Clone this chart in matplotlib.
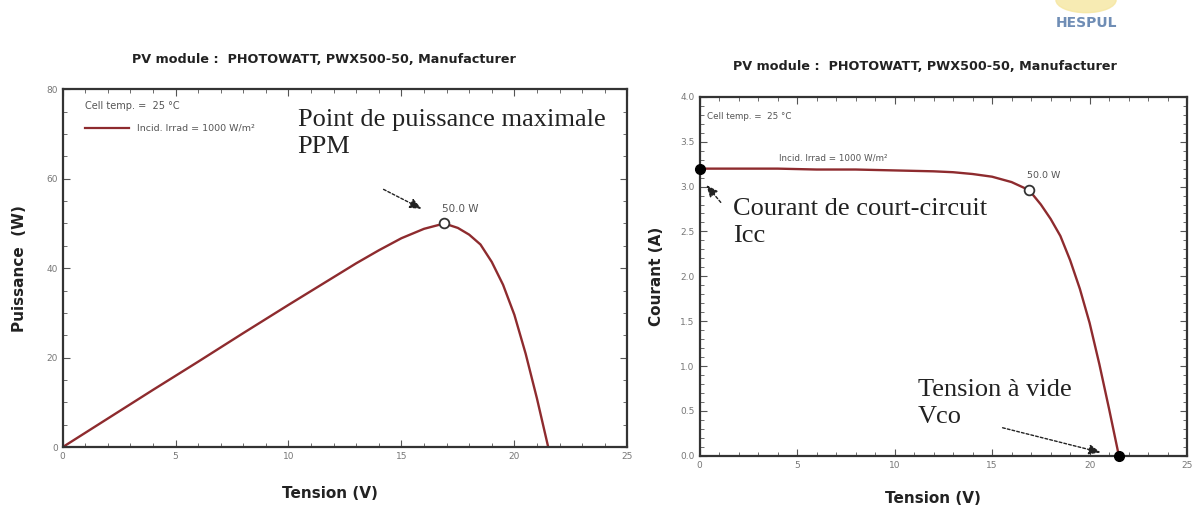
import matplotlib.pyplot as plt
from matplotlib.patches import Ellipse
from matplotlib.ticker import MultipleLocator

# data (PWX500-50 module, 25 C, 1000 W/m2)
tension = [0, 2, 4, 6, 8, 10, 12, 13, 14, 15, 16, 16.9, 17.5, 18, 18.5, 19, 19.5, 20, 20.5, 21, 21.5]
courant = [3.20, 3.20, 3.20, 3.19, 3.19, 3.18, 3.17, 3.16, 3.14, 3.11, 3.05, 2.96, 2.80, 2.64, 2.45, 2.18, 1.86, 1.48, 1.02, 0.52, 0.0]
puissance = [0, 6.4, 12.8, 19.1, 25.5, 31.8, 38.0, 41.1, 44.0, 46.7, 48.8, 50.0, 49.0, 47.5, 45.3, 41.4, 36.3, 29.6, 20.9, 10.9, 0.0]
v_mpp, p_mpp, i_mpp = 16.9, 50.0, 2.96
i_cc, v_co = 3.20, 21.5

title = "PV module :  PHOTOWATT, PWX500-50, Manufacturer"
red = "#8e2b2e"
grey = "#777777"
serif = "Liberation Serif"
arrow = dict(arrowstyle="-|>,head_length=0.7,head_width=0.3", ls=(0, (2, 1.5)),
             color="#222222", lw=1.0)

fig = plt.figure(figsize=(12.04, 5.07), dpi=100)
ax1 = fig.add_axes([0.052, 0.118, 0.469, 0.706])
ax2 = fig.add_axes([0.581, 0.101, 0.405, 0.708])


def style(ax):
    for s in ax.spines.values():
        s.set_linewidth(1.6)
        s.set_color("#333333")
    ax.tick_params(which="both", direction="in", top=True, right=True,
                   labelsize=6.5, labelcolor=grey, color="#555555")
    ax.tick_params(which="major", length=5)
    ax.tick_params(which="minor", length=3)
    ax.set_xlim(0, 25)
    ax.xaxis.set_major_locator(MultipleLocator(5))
    ax.xaxis.set_minor_locator(MultipleLocator(1))
    ax.set_xlabel("Tension (V)", fontsize=11, fontweight="bold", color="#222222")


# --- left: P-V ---
style(ax1)
ax1.xaxis.set_label_coords(0.474, -0.109)
ax1.set_ylim(0, 80)
ax1.yaxis.set_major_locator(MultipleLocator(20))
ax1.yaxis.set_minor_locator(MultipleLocator(5))
ax1.set_ylabel("Puissance  (W)", fontsize=11, fontweight="bold", color="#222222", labelpad=14)
ax1.plot(tension, puissance, color=red, lw=1.7)
ax1.plot(v_mpp, p_mpp, "o", ms=7, mfc="white", mec="#333333", mew=1.3)
ax1.text(16.8, 53.2, "50.0 W", fontsize=7.5, color="#555555", va="center")
ax1.text(0.97, 76.2, "Cell temp. =  25 \u00b0C", fontsize=7, color="#555555", va="center")
ax1.plot([0.97, 2.96], [71.3, 71.3], color=red, lw=1.6)
ax1.text(3.3, 71.3, "Incid. Irrad = 1000 W/m\u00b2", fontsize=6.8, color="#555555", va="center")
ax1.text(10.4, 75.5, "Point de puissance maximale\nPPM", family=serif, fontsize=19,
         va="top", ha="left", linespacing=1.3, color="#222222")
ax1.annotate("", xy=(16.0, 53.0), xytext=(14.1, 57.9), arrowprops=arrow)

# --- right: I-V ---
style(ax2)
ax2.xaxis.set_label_coords(0.478, -0.098)
ax2.set_ylim(0, 4.0)
ax2.yaxis.set_major_locator(MultipleLocator(0.5))
ax2.yaxis.set_minor_locator(MultipleLocator(0.1))
ax2.yaxis.set_major_formatter(lambda v, p: f"{v:.1f}")
ax2.set_ylabel("Courant (A)", fontsize=11, fontweight="bold", color="#222222", labelpad=12)
ax2.plot(tension, courant, color=red, lw=1.7, clip_on=False)
ax2.plot(v_mpp, i_mpp, "o", ms=7, mfc="white", mec="#333333", mew=1.3, zorder=4)
ax2.plot([0, v_co], [i_cc, 0], "o", ms=7, color="black", clip_on=False, zorder=5)
ax2.text(16.8, 3.12, "50.0 W", fontsize=6.8, color="#555555", va="center")
ax2.text(0.4, 3.78, "Cell temp. =  25 \u00b0C", fontsize=6.3, color="#555555", va="center")
ax2.text(4.1, 3.32, "Incid. Irrad = 1000 W/m\u00b2", fontsize=6.3, color="#555555", va="center")
ax2.text(1.7, 2.87, "Courant de court-circuit\nIcc", family=serif, fontsize=19,
         va="top", ha="left", linespacing=1.3, color="#222222")
ax2.annotate("", xy=(0.26, 3.04), xytext=(1.18, 2.80), arrowprops=arrow)
ax2.text(11.2, 0.86, "Tension \u00e0 vide\nVco", family=serif, fontsize=19,
         va="top", ha="left", linespacing=1.3, color="#222222")
ax2.annotate("", xy=(20.7, 0.03), xytext=(15.4, 0.32), arrowprops=arrow)

# titles placed as in the scanned slide
fig.text(0.269, 0.882, title, fontsize=9.2, fontweight="bold", color="#222222",
         ha="center", va="center")
fig.text(0.768, 0.868, title, fontsize=9.2, fontweight="bold", color="#222222",
         ha="center", va="center")

# logo at top right
fig.patches.append(Ellipse((0.902, 1.0), 0.05, 0.05, transform=fig.transFigure,
                           color="#f6e6a0", alpha=0.8, zorder=0))
fig.text(0.902, 0.955, "HESPUL", fontsize=10, fontweight="bold", color="#6f8db5",
         ha="center", va="center")

fig.savefig("out.png", dpi=100)
